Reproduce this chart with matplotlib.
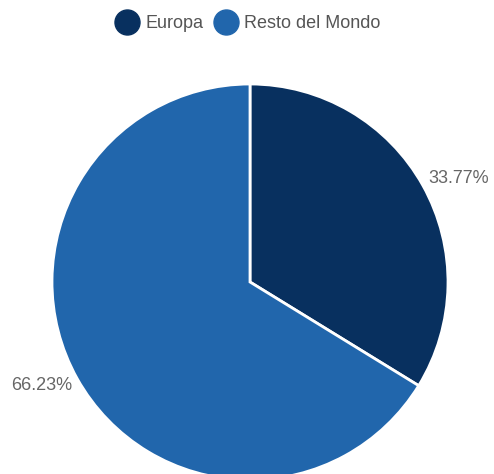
import numpy as np
import matplotlib
matplotlib.use("Agg")
import matplotlib.pyplot as plt
from matplotlib.lines import Line2D

plt.rcParams["font.family"] = ["Liberation Sans", "DejaVu Sans"]

regions = ["Europa", "Resto del Mondo"]
shares = [33.77, 66.23]
colors = ["#08305f", "#2166ac"]

W, H = 494, 474
fig = plt.figure(figsize=(W / 100, H / 100), dpi=100)
ax = fig.add_axes([0, 0, 1, 1])
ax.set_aspect("equal")
ax.axis("off")

cx, cy, r = 250, H - 282, 198
wedges, _ = ax.pie(shares, colors=colors, startangle=90, counterclock=False,
                   center=(cx, cy), radius=r,
                   wedgeprops=dict(edgecolor="white", linewidth=2))
ax.set_xlim(0, W)
ax.set_ylim(0, H)

for w, val in zip(wedges, shares):
    ang = np.deg2rad((w.theta1 + w.theta2) / 2)
    x = cx + 1.03 * r * np.cos(ang)
    y = cy + 1.07 * r * np.sin(ang)
    ax.text(x, y, f"{val:.2f}%", ha="left" if np.cos(ang) > 0 else "right",
            va="center", fontsize=13, color="#666666")

handles = [Line2D([], [], marker="o", ls="", markersize=18, color=c)
           for c in colors]
fig.legend(handles, regions, loc="center", bbox_to_anchor=(248 / W, 1 - 24 / H),
           ncol=2, frameon=False, fontsize=13, labelcolor="#555555",
           handletextpad=0.35, columnspacing=0.6, handlelength=1.3)

fig.savefig("out.png", dpi=100)
